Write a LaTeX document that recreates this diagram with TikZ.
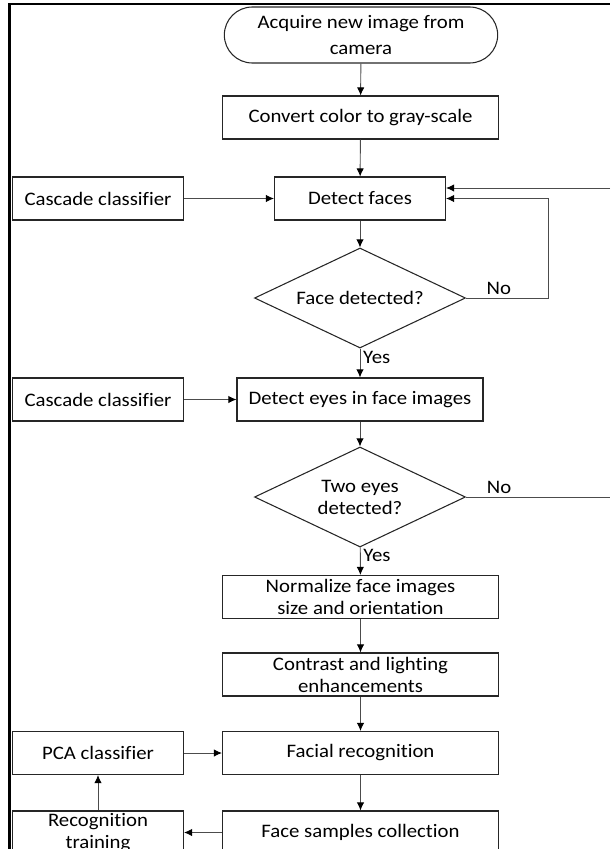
\documentclass[tikz,border=0pt]{standalone}
\usepackage{fontspec}
\setmainfont{Carlito}[FakeStretch=1.09,Ligatures=NoCommon]
\usetikzlibrary{shapes.geometric,shapes.misc,arrows.meta}
\tikzset{
  block/.style={draw=black!85,line width=0.8pt,rectangle,minimum width=128.25pt,minimum height=32.25pt,inner sep=1pt,align=center,font=\fontsize{14.3pt}{16.5pt}\selectfont},
  wideblock/.style={block,minimum width=207pt},
  startstop/.style={block,rounded rectangle,minimum width=207pt,minimum height=42pt,font=\fontsize{14.3pt}{19.5pt}\selectfont},
  decision/.style={block,diamond,minimum width=158.25pt,minimum height=75pt,inner sep=0pt,aspect=1.8},
  flow/.style={draw=black!70,line width=0.7pt,-{Latex[length=6pt,width=5.5pt,color=black]}},
  lbl/.style={font=\fontsize{14.3pt}{16.5pt}\selectfont,inner sep=2pt}
}
\begin{document}
\begin{tikzpicture}[x=0.75pt,y=-0.75pt]
        \useasboundingbox (0,0) rectangle (610,849);
        \clip (0,0) rectangle (610,849);
        \draw[line width=2.2pt] (9.5,849)--(9.5,4)--(610,4);
        \node[startstop] (start) at (361,35) {Acquire new image from\\camera};
        \node[wideblock] (gray) at (360.5,117.5) {Convert color to gray-scale};
        \node[block] (faces) at (360,198.5) {Detect faces};
        \node[block] (casc1) at (98,198.5) {Cascade classifier};
        \node[decision] (isface) at (360,298) {Face detected?};
        \node[block,minimum width=184.5pt] (eyes) at (360,399.5) {Detect eyes in face images};
        \node[block] (casc2) at (98,399.5) {Cascade classifier};
        \node[decision] (twoeyes) at (360,497) {Two eyes\\detected?};
        \node[wideblock] (norm) at (360.5,597) {Normalize face images\\size and orientation};
        \node[wideblock] (contrast) at (360.5,674.5) {Contrast and lighting\\enhancements};
        \node[wideblock] (recog) at (360.5,753) {Facial recognition};
        \node[block] (pca) at (98,753) {PCA classifier};
        \node[wideblock] (samples) at (360.5,832.5) {Face samples collection};
        \node[block] (train) at (98,832.5) {Recognition\\training};
        \coordinate (inR) at (610,188);
        \coordinate (outR) at (610,497);
        \draw[flow] (start)--(gray);
        \draw[flow] (gray)--(faces);
        \draw[flow] (casc1)--(faces);
        \draw[flow] (faces)--(isface);
        \draw[flow] (isface.east)--node[lbl,above,pos=0.4]{No} ++(82,0)|-(faces.east);
        \draw[flow] (inR)--(inR-|faces.east);
        \draw[flow] (isface)--node[lbl,right,pos=0.3]{Yes}(eyes);
        \draw[flow] (casc2)--(eyes);
        \draw[flow] (eyes)--(twoeyes);
        \draw[draw=black!70,line width=0.7pt] (twoeyes.east)--node[lbl,above,pos=0.23]{No}(outR);
        \draw[flow] (twoeyes)--node[lbl,right,pos=0.3]{Yes}(norm);
        \draw[flow] (norm)--(contrast);
        \draw[flow] (contrast)--(recog);
        \draw[flow] (pca)--(recog);
        \draw[flow] (recog)--(samples);
        \draw[flow] (samples)--(train);
        \draw[flow] (train)--(pca);
    \end{tikzpicture}
\end{document}
